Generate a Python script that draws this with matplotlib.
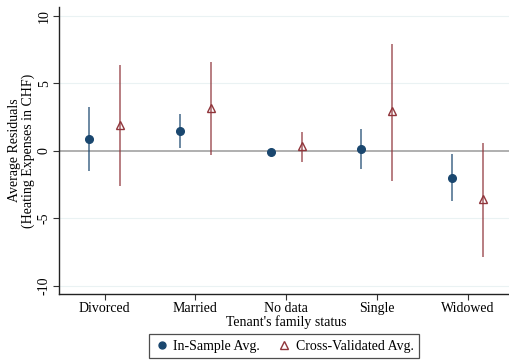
import numpy as np
import matplotlib.pyplot as plt
from matplotlib.lines import Line2D

plt.rcParams['font.family'] = ['Liberation Serif', 'DejaVu Serif']

categories = ['Divorced', 'Married', 'No data', 'Single', 'Widowed']

# in-sample averages with CI bounds
ins_mean = [0.89, 1.48, -0.10, 0.15, -1.98]
ins_low = [-1.48, 0.22, -0.10, -1.33, -3.68]
ins_high = [3.26, 2.74, -0.10, 1.63, -0.22]

# cross-validated averages with CI bounds
cv_mean = [1.93, 3.20, 0.39, 2.96, -3.58]
cv_low = [-2.60, -0.30, -0.79, -2.20, -7.83]
cv_high = [6.37, 6.60, 1.43, 7.93, 0.57]

navy = '#1a476f'
maroon = '#90353b'

fig = plt.figure(figsize=(5.1, 3.64), dpi=100)
ax = fig.add_axes([0.116, 0.192, 0.89, 0.789])

x = np.arange(1, len(categories) + 1)
xi = x - 0.17
xc = x + 0.17

ax.axhline(0, color='#9a9a9a', lw=1.1, zorder=1)
for v in [-10, -5, 5, 10]:
    ax.axhline(v, color='#eaf2f3', lw=0.8, zorder=0)

ax.vlines(xi, ins_low, ins_high, color=navy, alpha=0.75, lw=1.2, zorder=2)
ax.vlines(xc, cv_low, cv_high, color=maroon, alpha=0.75, lw=1.2, zorder=2)
ax.plot(xi, ins_mean, 'o', color=navy, ms=5.5, zorder=3)
ax.plot(xc, cv_mean, '^', mfc='none', mec=maroon, mew=1.0, ms=6, zorder=3)

ax.set_xlim(0.5, 5.5)
ax.set_ylim(-10.6, 10.67)
ax.set_xticks(x)
ax.set_xticklabels(categories, fontsize=10)
ax.set_yticks([-10, -5, 0, 5, 10])
ax.set_yticklabels(['-10', '-5', '0', '5', '10'], rotation=90, va='center', fontsize=10)
ax.tick_params(length=4, width=0.8, color='#333333', pad=2)

for s in ['top', 'right']:
    ax.spines[s].set_visible(False)
for s in ['left', 'bottom']:
    ax.spines[s].set_color('#222222')
    ax.spines[s].set_linewidth(1.0)

ax.set_xlabel("Tenant's family status", fontsize=10, labelpad=0)
ax.set_ylabel('Average Residuals\n(Heating Expenses in CHF)', fontsize=10,
              labelpad=2, linespacing=1.1)

handles = [
    Line2D([], [], ls='none', marker='o', color=navy, ms=5),
    Line2D([], [], ls='none', marker='^', mfc='none', mec=maroon, mew=1.0, ms=6),
]
leg = fig.legend(handles, ['In-Sample Avg.', 'Cross-Validated Avg.'],
                 loc='lower center', bbox_to_anchor=(0.557, -0.003), ncol=2,
                 frameon=True, fancybox=False, fontsize=10, handletextpad=0.3,
                 columnspacing=1.3, borderpad=0.4, handlelength=1.0)
leg.get_frame().set_edgecolor('#222222')
leg.get_frame().set_linewidth(0.9)

fig.savefig('out.png', dpi=100)
